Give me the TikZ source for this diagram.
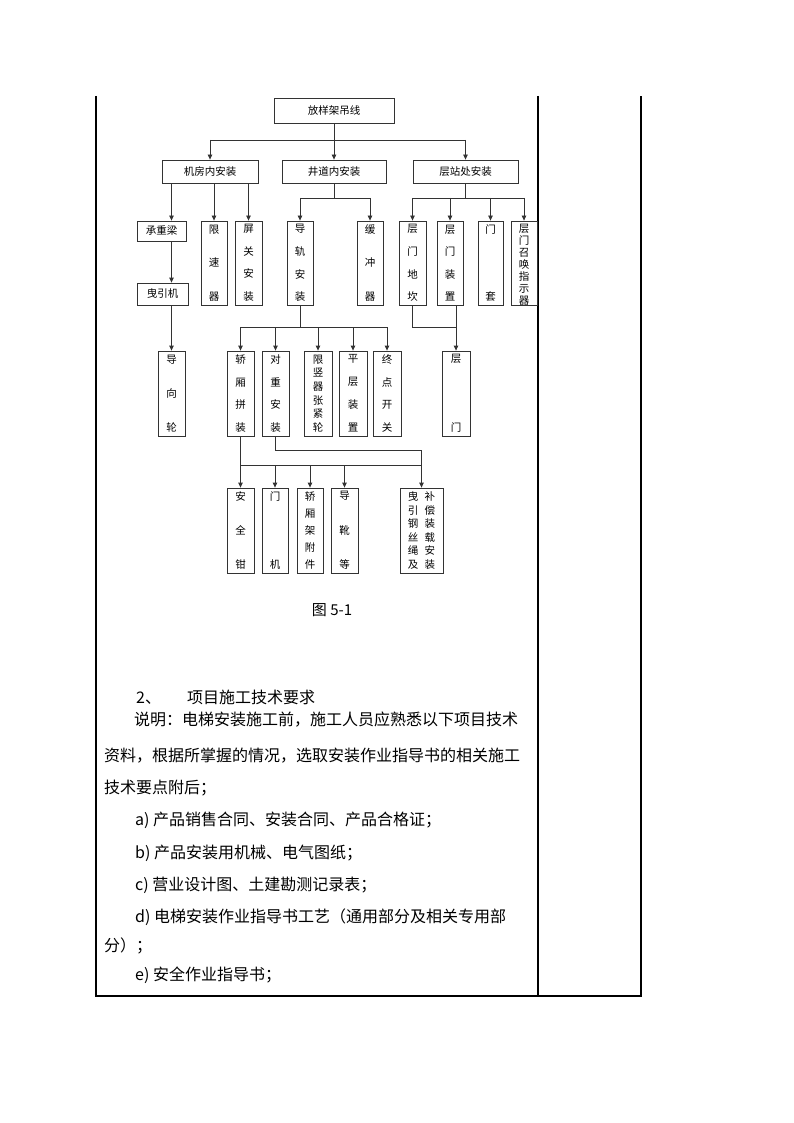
\documentclass[tikz,border=0pt]{standalone}
\usepackage{fontspec}
\setmainfont{Noto Sans CJK SC}
\usetikzlibrary{arrows.meta}
% characters of a label set one under another, spread over the box
\newcommand{\vtxt}[2]{\parbox[c][#1pt][s]{1.2em}{\centering\foreach \ch [count=\n] in {#2}{\ifnum\n>1 \par\vfill\fi\ch}\par}}

\begin{document}
\begin{tikzpicture}[x=1pt, y=-1pt,
  box/.style={draw=black!80, line width=0.8, inner sep=0pt, font=\fontsize{10.5}{12}\selectfont},
  line/.style={draw=black!80, line width=0.8},
  arr/.style={line, -{Triangle[length=5pt,width=4.5pt]}},
  txt/.style={anchor=west, inner sep=0pt, font=\fontsize{16}{18}\selectfont}]
\useasboundingbox (0,0) rectangle (794,1123);

% table frame
\draw[line width=1.1] (96,96) -- (96,996) -- (641,996) -- (641,96);
\draw[line width=1.1] (538,96) -- (538,996);

% top and second row
\node[box, minimum width=120, minimum height=25] (fy) at (334,110.5) {放样架吊线};
\node[box, minimum width=96, minimum height=23] (jf) at (210,171.5) {机房内安装};
\node[box, minimum width=104, minimum height=23] (jd) at (334,171.5) {井道内安装};
\node[box, minimum width=105, minimum height=23] (cz) at (465.5,171.5) {层站处安装};

% third row
\node[box, minimum width=49, minimum height=20] (czl) at (161.5,231) {承重梁};
\node[box, minimum width=51, minimum height=22] (yyj) at (162.5,294) {曳引机};
\node[box, minimum width=26, minimum height=84] (xsq) at (214,263) {\vtxt{76}{限,速,器}};
\node[box, minimum width=27, minimum height=84] (pg) at (248.5,263) {\vtxt{76}{屏,关,安,装}};
\node[box, minimum width=26, minimum height=84] (dg) at (300,263) {\vtxt{76}{导,轨,安,装}};
\node[box, minimum width=26, minimum height=84] (hcq) at (370,263) {\vtxt{76}{缓,冲,器}};
\node[box, minimum width=27, minimum height=84] (mdk) at (412.5,263) {\vtxt{76}{层,门,地,坎}};
\node[box, minimum width=26, minimum height=84] (mzz) at (450,263) {\vtxt{76}{层,门,装,置}};
\node[box, minimum width=25, minimum height=84] (mt) at (490.5,263) {\vtxt{76}{门,套}};
\node[box, minimum width=26, minimum height=84] (zh) at (524,263) {\vtxt{76}{层,门,召,唤,指,示,器}};

% fourth row
\node[box, minimum width=27, minimum height=85] (dxl) at (171.5,393.5) {\vtxt{77}{导,向,轮}};
\node[box, minimum width=27, minimum height=85] (jx) at (240.5,393.5) {\vtxt{77}{轿,厢,拼,装}};
\node[box, minimum width=27, minimum height=85] (dz) at (275.5,393.5) {\vtxt{77}{对,重,安,装}};
\node[box, minimum width=28, minimum height=85] (zj) at (318,393.5) {\vtxt{77}{限,竖,器,张,紧,轮}};
\node[box, minimum width=28, minimum height=85] (pc) at (353,393.5) {\vtxt{77}{平,层,装,置}};
\node[box, minimum width=28, minimum height=85] (zd) at (387,393.5) {\vtxt{77}{终,点,开,关}};
\node[box, minimum width=28, minimum height=85] (cm) at (456,393.5) {\vtxt{77}{层,门}};

% fifth row
\node[box, minimum width=27, minimum height=85] (aqq) at (240.5,530.5) {\vtxt{77}{安,全,钳}};
\node[box, minimum width=26, minimum height=85] (mj) at (275,530.5) {\vtxt{77}{门,机}};
\node[box, minimum width=26, minimum height=85] (jxj) at (310,530.5) {\vtxt{77}{轿,厢,架,附,件}};
\node[box, minimum width=27, minimum height=85] (dx) at (344.5,530.5) {\vtxt{77}{导,靴,等}};
\node[box, minimum width=43, minimum height=85] (gs) at (421.5,530.5) {\vtxt{77}{曳,引,钢,丝,绳,及}\hspace{4pt}\vtxt{77}{补,偿,装,载,安,装}};

% bus lines
\coordinate (b1) at (334,140);
\coordinate (b2) at (334,198);
\coordinate (b3) at (465.5,198);
\coordinate (b4) at (300,327);
\coordinate (b5) at (240.5,465);
\coordinate (b6) at (275.5,450);

\draw[line] (fy.south) -- (b1);
\draw[line] (jf.north |- b1) -- (cz.north |- b1);
\path (jf.north |- b1) edge[arr] (jf.north);
\path (jd.north |- b1) edge[arr] (jd.north);
\path (cz.north |- b1) edge[arr] (cz.north);

% 机房内安装
\path (jf.south -| dxl.north) edge[arr] (czl.north -| dxl.north);
\path (jf.south -| xsq.north) edge[arr] (xsq.north);
\path (jf.south -| pg.north) edge[arr] (pg.north);
\path (czl.south -| dxl.north) edge[arr] (yyj.north -| dxl.north);
\path (yyj.south -| dxl.north) edge[arr] (dxl.north);

% 井道内安装
\draw[line] (jd.south) -- (b2);
\draw[line] (dg.north |- b2) -- (hcq.north |- b2);
\path (dg.north |- b2) edge[arr] (dg.north);
\path (hcq.north |- b2) edge[arr] (hcq.north);

% 层站处安装
\draw[line] (cz.south) -- (b3);
\draw[line] (mdk.north |- b3) -- (zh.north |- b3);
\path (mdk.north |- b3) edge[arr] (mdk.north);
\path (mzz.north |- b3) edge[arr] (mzz.north);
\path (mt.north |- b3) edge[arr] (mt.north);
\path (zh.north |- b3) edge[arr] (zh.north);

% 导轨安装
\draw[line] (dg.south) -- (b4);
\draw[line] (jx.north |- b4) -- (zd.north |- b4);
\path (jx.north |- b4) edge[arr] (jx.north);
\path (dz.north |- b4) edge[arr] (dz.north);
\path (zj.north |- b4) edge[arr] (zj.north);
\path (pc.north |- b4) edge[arr] (pc.north);
\path (zd.north |- b4) edge[arr] (zd.north);

% 层门
\draw[line] (mdk.south) |- (cm.north |- b4);
\path (mzz.south -| cm.north) edge[arr] (cm.north);

% 轿厢拼装, 对重安装
\draw[line] (jx.south) -- (b5);
\draw[line] (b5) -- (gs.north |- b5);
\path (aqq.north |- b5) edge[arr] (aqq.north);
\path (mj.north |- b5) edge[arr] (mj.north);
\path (jxj.north |- b5) edge[arr] (jxj.north);
\path (dx.north |- b5) edge[arr] (dx.north);
\draw[line] (dz.south) |- (gs.north |- b6);
\path (gs.north |- b6) edge[arr] (gs.north);

% text below the chart
\node[txt, anchor=center, font=\fontsize{15}{18}\selectfont] (cap) at (332,610) {图 5-1};
\node[txt] (h2) at (136,697) {2、\hspace{26pt}项目施工技术要求};
\node[txt] (p1) at (134,720) {说明：电梯安装施工前，施工人员应熟悉以下项目技术};
\node[txt] (p2) at (104,756) {资料，根据所掌握的情况，选取安装作业指导书的相关施工};
\node[txt] (p3) at (104,788) {技术要点附后；};
\node[txt] (la) at (135,820) {a) 产品销售合同、安装合同、产品合格证；};
\node[txt] (lb) at (135,853) {b) 产品安装用机械、电气图纸；};
\node[txt] (lc) at (135,885) {c) 营业设计图、土建勘测记录表；};
\node[txt] (ld) at (135,917) {d) 电梯安装作业指导书工艺（通用部分及相关专用部};
\node[txt] (le) at (104,946) {分）；};
\node[txt] (lf) at (135,975) {e) 安全作业指导书；};
\end{tikzpicture}
\end{document}
